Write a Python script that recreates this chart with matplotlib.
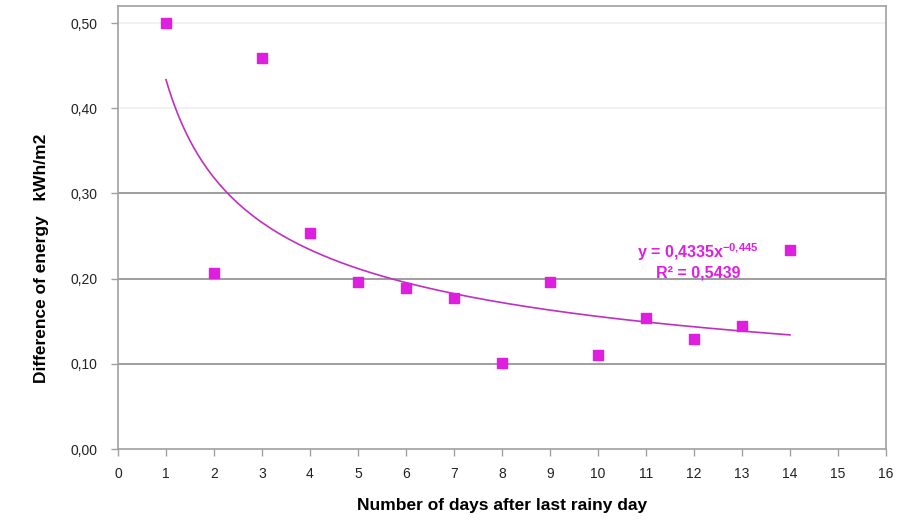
import numpy as np
import matplotlib.pyplot as plt
from matplotlib.ticker import FuncFormatter

# measured points
days = [1, 2, 3, 4, 5, 6, 7, 8, 9, 10, 11, 12, 13, 14]
energy_diff = [0.500, 0.207, 0.459, 0.254, 0.196, 0.189, 0.177, 0.101,
               0.196, 0.110, 0.154, 0.129, 0.144, 0.234]

# power trendline y = a * x^b
trend_a = 0.4335
trend_b = -0.445
trend_r2 = 0.5439

plt.rcParams['font.family'] = ['Liberation Sans', 'DejaVu Sans']
plt.rcParams['mathtext.fontset'] = 'custom'
plt.rcParams['mathtext.bf'] = 'Liberation Sans:bold'
plt.rcParams['mathtext.rm'] = 'Liberation Sans:bold'
plt.rcParams['mathtext.default'] = 'bf'
magenta = '#e01ee0'

fig = plt.figure(figsize=(9.19, 5.2), dpi=100)
ax = fig.add_axes([0.1284, 0.1365, 0.8356, 0.852])

# gridlines (upper ones are faint in the original)
for yv in [0.1, 0.2, 0.3]:
    ax.axhline(yv, color='#8c8c8c', lw=1.2, zorder=0)
for yv in [0.4, 0.5]:
    ax.axhline(yv, color='#f0f0f0', lw=1.2, zorder=0)

ax.scatter(days, energy_diff, marker='s', s=46, color=magenta, zorder=3)

xt = np.linspace(days[0], days[-1], 200)
ax.plot(xt, trend_a * xt ** trend_b, color='#c030c0', lw=1.2, zorder=2)

ax.text(12.08, 0.231, 'y = 0,4335x$^{-0{,}445}$', color=magenta, fontsize=11.5,
        fontweight='bold', ha='center', va='center')
ax.text(12.08, 0.2066, ('R² = %.4f' % trend_r2).replace('.', ','), color=magenta,
        fontsize=11.5, fontweight='bold', ha='center', va='center')

ax.set_xlim(0, 16)
ax.set_ylim(0, 0.52)
ax.set_xticks(range(0, 17))
ax.set_yticks([0, 0.1, 0.2, 0.3, 0.4, 0.5])
ax.yaxis.set_major_formatter(FuncFormatter(lambda v, p: ('%.2f' % v).replace('.', ',')))

for s in ax.spines.values():
    s.set_color('#a0a0a0')
    s.set_linewidth(1.2)
ax.tick_params(axis='both', colors='#a0a0a0', labelcolor='#222222',
               labelsize=10, length=5, width=1)
ax.tick_params(axis='x', pad=8)
ax.tick_params(axis='y', pad=10)

ax.set_xlabel('Number of days after last rainy day', fontsize=12.5,
              fontweight='bold', labelpad=12)
ax.set_ylabel('Difference of energy   kWh/m2', fontsize=12.5,
              fontweight='bold', labelpad=12)
ax.yaxis.set_label_coords(-0.09, 0.43)

fig.savefig('out.png', dpi=100, facecolor='white')
